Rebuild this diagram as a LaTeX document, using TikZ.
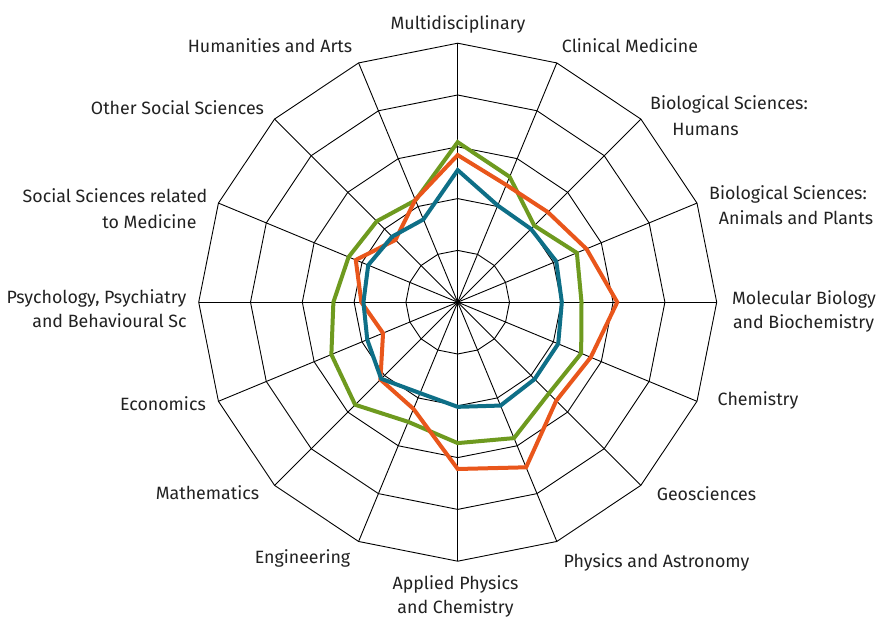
\documentclass[tikz,border=0pt]{standalone}
\usepackage{fontspec}
\setmainfont{Fira Sans}
\definecolor{tealc}{HTML}{0E6F87}
\definecolor{orangec}{HTML}{E9561B}
\definecolor{greenc}{HTML}{6E9A1F}
\definecolor{txt}{HTML}{222222}
\begin{document}
\begin{tikzpicture}[x=1pt,y=-1pt,
  gridline/.style={line width=0.9pt,black},
  series/.style={line width=4pt,line join=miter},
  lbl/.style={anchor=base,inner sep=0pt,text=txt,font=\fontsize{17.8}{21}\selectfont}]
\useasboundingbox[fill=white] (0,0) rectangle (877,617);
\def\cx{457.7}\def\cy{302.2}\def\st{51.8}
\coordinate (c) at (\cx,\cy);
\foreach \k in {0,...,15}{
  \coordinate (a\k) at ({\cx+5*\st*sin(22.5*\k)},{\cy-5*\st*cos(22.5*\k)});
}
\foreach \r in {1,...,5}{
  \draw[gridline] ({\cx},{\cy-\r*\st}) \foreach \k in {1,...,15}{ -- ({\cx+\r*\st*sin(22.5*\k)},{\cy-\r*\st*cos(22.5*\k)}) } -- cycle;
}
\foreach \k in {0,...,15}{ \draw[gridline] (c) -- (a\k); }
% series
\foreach \v [count=\k from 0] in {3.09,2.62,2.09,2.49,2.39,2.58,2.49,2.84,2.72,2.50,2.80,2.64,2.40,2.28,2.21,2.13}{
  \coordinate (g\k) at ({\cx+\v*\st*sin(22.5*\k)},{\cy-\v*\st*cos(22.5*\k)});
}
\foreach \v [count=\k from 0] in {2.84,2.45,2.46,2.69,3.08,2.78,2.69,3.45,3.22,2.23,2.11,1.56,1.86,2.13,1.70,2.14}{
  \coordinate (o\k) at ({\cx+\v*\st*sin(22.5*\k)},{\cy-\v*\st*cos(22.5*\k)});
}
\foreach \v [count=\k from 0] in {2.55,2.02,2.00,2.06,2.01,2.10,2.10,2.16,2.02,1.90,2.09,1.89,1.82,1.87,1.79,1.73}{
  \coordinate (t\k) at ({\cx+\v*\st*sin(22.5*\k)},{\cy-\v*\st*cos(22.5*\k)});
}
\draw[series,greenc] (g0) \foreach \k in {1,...,15}{ -- (g\k) } -- cycle;
\draw[series,orangec] (o0) \foreach \k in {1,...,15}{ -- (o\k) } -- cycle;
\draw[series,tealc] (t0) \foreach \k in {1,...,15}{ -- (t\k) } -- cycle;
% labels
\node[lbl] (l0) at (458,30) {Multidisciplinary};
\node[lbl] (l1) at (630,53) {Clinical Medicine};
\node[lbl] (l2a) at (729,110) {Biological Sciences:};
\node[lbl] (l2b) at (705.5,136) {Humans};
\node[lbl] (l3a) at (788,200) {Biological Sciences:};
\node[lbl] (l3b) at (796,225) {Animals and Plants};
\node[lbl] (l4a) at (804,305) {Molecular Biology};
\node[lbl] (l4b) at (803.5,328) {and Biochemistry};
\node[lbl] (l5) at (758,405) {Chemistry};
\node[lbl] (l6) at (706.5,500) {Geosciences};
\node[lbl] (l7) at (656.5,567) {Physics and Astronomy};
\node[lbl] (l8a) at (455.5,589) {Applied Physics};
\node[lbl] (l8b) at (455.5,613) {and Chemistry};
\node[lbl] (l9) at (302.5,563) {Engineering};
\node[lbl] (l10) at (207.5,499) {Mathematics};
\node[lbl] (l11) at (163,410) {Economics};
\node[lbl] (l12a) at (96.5,303) {Psychology, Psychiatry};
\node[lbl] (l12b) at (109.5,327) {and Behavioural Sc};
\node[lbl] (l13a) at (115,203) {Social Sciences related};
\node[lbl] (l13b) at (149.5,229) {to Medicine};
\node[lbl] (l14) at (177.5,115) {Other Social Sciences};
\node[lbl] (l15) at (270,53) {Humanities and Arts};
\end{tikzpicture}
\end{document}
